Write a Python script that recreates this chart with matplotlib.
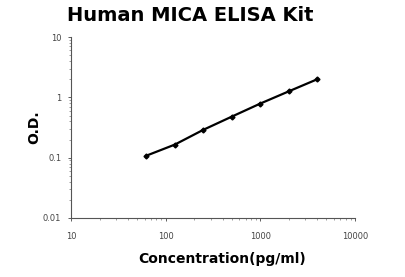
import matplotlib
matplotlib.use("Agg")
import matplotlib.pyplot as plt

conc = [62.5, 125, 250, 500, 1000, 2000, 4000]
od = [0.108, 0.165, 0.29, 0.48, 0.79, 1.26, 2.0]

fig = plt.figure(figsize=(4.06, 2.77), dpi=100)
ax = fig.add_axes([0.175, 0.213, 0.699, 0.653])

ax.plot(conc, od, color='black', linewidth=1.6, marker='D', markersize=2.5)
ax.set_xscale('log')
ax.set_yscale('log')
ax.set_xlim(10, 10000)
ax.set_ylim(0.01, 10)
ax.set_xticks([10, 100, 1000, 10000])
ax.set_xticklabels(['10', '100', '1000', '10000'])
ax.set_yticks([0.01, 0.1, 1, 10])
ax.set_yticklabels(['0.01', '0.1', '1', '10'])

for s in ['top', 'right']:
    ax.spines[s].set_visible(False)
for s in ['left', 'bottom']:
    ax.spines[s].set_color('#555555')
    ax.spines[s].set_linewidth(0.8)

ax.tick_params(which='major', labelsize=6, colors='#444444', length=2, width=0.6)
ax.tick_params(axis='x', which='major', pad=8)
ax.tick_params(axis='y', which='major', pad=5)
ax.tick_params(which='minor', length=1.5, width=0.5, colors='#777777')

fig.text(0.468, 0.945, 'Human MICA ELISA Kit', fontsize=14, fontweight='bold',
         ha='center', va='center')
ax.set_xlabel('Concentration(pg/ml)', fontsize=10, fontweight='bold')
ax.xaxis.set_label_coords(0.532, -0.19)
ax.set_ylabel('O.D.', fontsize=10, fontweight='bold', labelpad=1)

fig.savefig('out.png', dpi=100)
